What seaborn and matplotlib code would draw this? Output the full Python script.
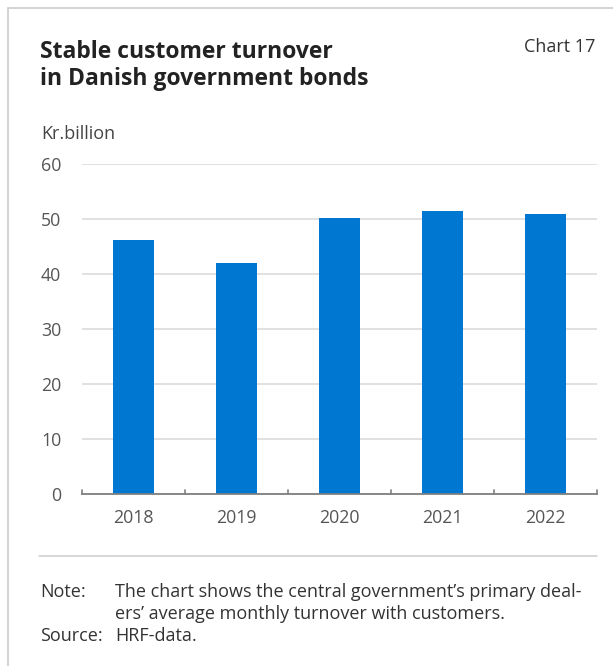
import matplotlib
matplotlib.use("Agg")
import matplotlib.pyplot as plt
import seaborn as sns
import pandas as pd
from matplotlib.lines import Line2D

years = ["2018", "2019", "2020", "2021", "2022"]
turnover = [46.2, 42.0, 50.2, 51.5, 50.9]
yticks = [0, 10, 20, 30, 40, 50, 60]

title = "Stable customer turnover\nin Danish government bonds"
chart_no = "Chart 17"
unit = "Kr.billion"
note = "The chart shows the central government\u2019s primary deal-\ners\u2019 average monthly turnover with customers."
source = "HRF-data."

sns.set_theme(style="white")
plt.rcParams["font.family"] = ["Open Sans", "DejaVu Sans"]

W, H = 613, 666
fig = plt.figure(figsize=(W / 100, H / 100), dpi=100)
ax = fig.add_axes([82 / W, 1 - 494 / H, (597 - 82) / W, (494 - 164) / H])

df = pd.DataFrame({"year": years, "value": turnover})
sns.barplot(data=df, x="year", y="value", color="#0078d2", width=0.4,
            saturation=1, ax=ax, edgecolor="none")

ax.set_ylim(0, 60)
ax.set_xlim(-0.5, len(years) - 0.5)
ax.set_yticks(yticks)
ax.set_xlabel("")
ax.set_ylabel("")
for s in ["top", "right", "left"]:
    ax.spines[s].set_visible(False)
ax.spines["bottom"].set_color("#7f7f7f")
ax.spines["bottom"].set_linewidth(1.3)
ax.yaxis.grid(True, color="#d9d9d9", linewidth=1.1)
ax.set_axisbelow(True)
ax.tick_params(axis="y", length=0, pad=15, labelsize=12.8, labelcolor="#555555")
ax.tick_params(axis="x", length=0, pad=11, labelsize=12.8, labelcolor="#555555")

# boundary ticks pointing up
for b in [-0.5 + i for i in range(len(years) + 1)]:
    ax.plot([b, b], [0, 0.7], color="#7f7f7f", lw=1.2, clip_on=False, zorder=3)

# figure frame (left and top)
fig.add_artist(Line2D([8 / W, 8 / W], [0, 1 - 8 / H], color="#cccccc", lw=1.2))
fig.add_artist(Line2D([8 / W, 1], [1 - 8 / H, 1 - 8 / H], color="#cccccc", lw=1.2))

fig.text(40 / W, 1 - 85 / H, title, fontsize=16.5, fontweight="bold",
         color="#222222", ha="left", va="baseline", linespacing=1.17)
fig.text(595 / W, 1 - 52 / H, chart_no, fontsize=13, color="#333333",
         ha="right", va="baseline")
fig.text(41 / W, 1 - 139 / H, unit, fontsize=13, color="#444444",
         ha="left", va="baseline")

fig.add_artist(Line2D([39 / W, 597 / W], [1 - 556 / H, 1 - 556 / H],
                      color="#cccccc", lw=1.1))

fs = 13
fig.text(40 / W, 1 - 597 / H, "Note:", fontsize=fs, color="#333333",
         ha="left", va="baseline")
fig.text(115 / W, 1 - 619 / H, note, fontsize=fs, color="#333333",
         ha="left", va="baseline", linespacing=1.28)
fig.text(40 / W, 1 - 641 / H, "Source:", fontsize=fs, color="#333333",
         ha="left", va="baseline")
fig.text(115 / W, 1 - 641 / H, source, fontsize=fs, color="#333333",
         ha="left", va="baseline")

fig.savefig("out.png", dpi=100)
